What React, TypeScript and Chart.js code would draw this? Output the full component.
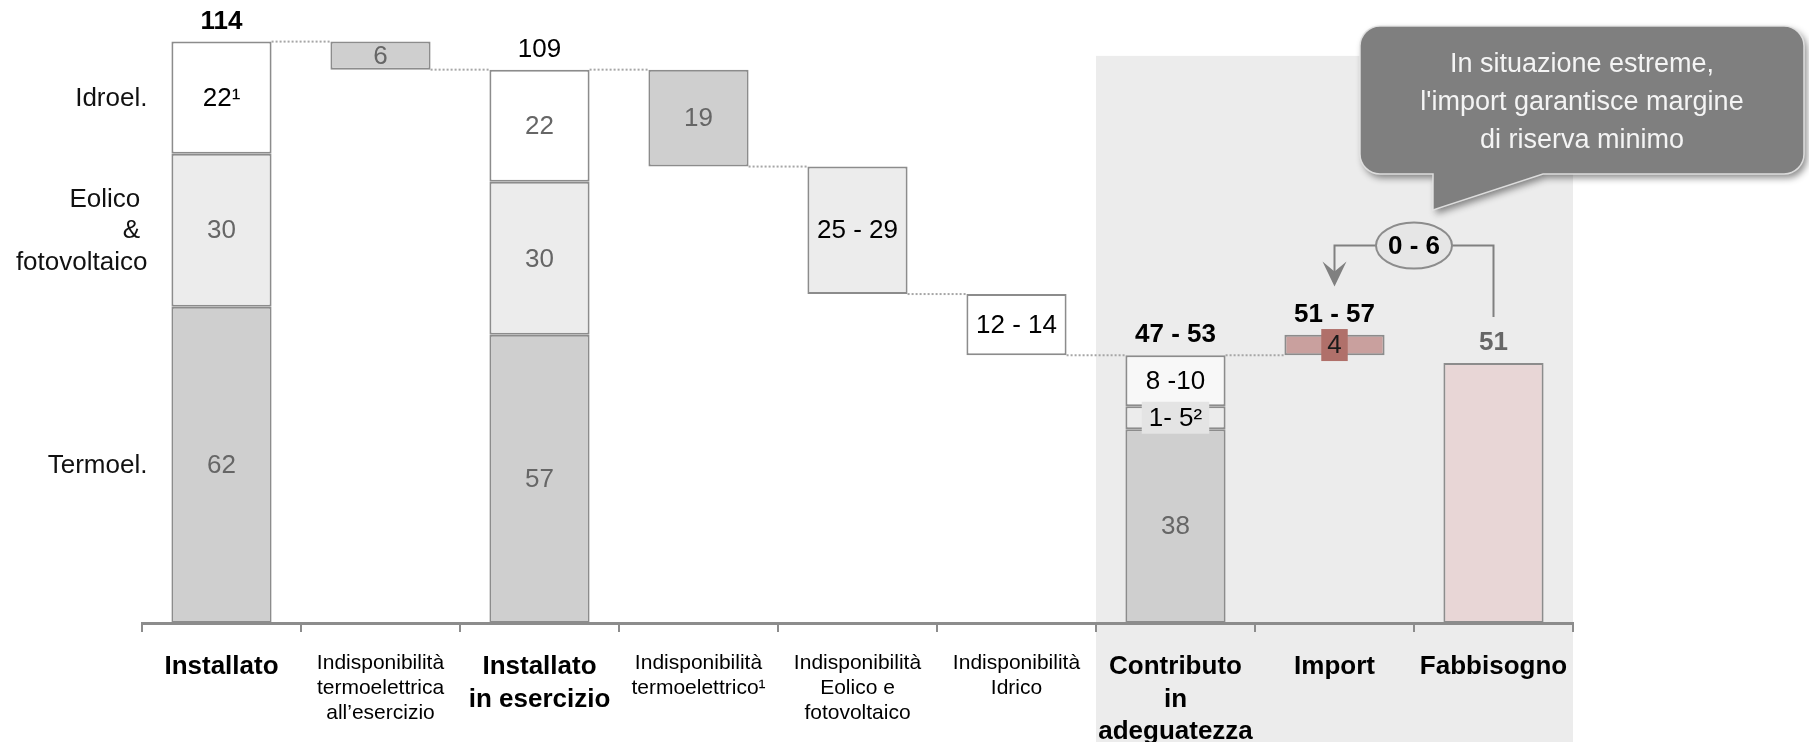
import React, { useEffect, useRef } from "react";
import { Chart, registerables } from "chart.js";

Chart.register(...registerables);

const FONT = "'Liberation Sans', Arial, Helvetica, sans-serif";

// ---------- data ----------
const categories: string[][] = [
  ["Installato"],
  ["Indisponibilità", "termoelettrica", "all’esercizio"],
  ["Installato", "in esercizio"],
  ["Indisponibilità", "termoelettrico¹"],
  ["Indisponibilità", "Eolico e", "fotovoltaico"],
  ["Indisponibilità", "Idrico"],
  ["Contributo", "in", "adeguatezza"],
  ["Import"],
  ["Fabbisogno"],
];
const boldCategory = [true, false, true, false, false, false, true, true, true];

type Seg = [number, number] | null;
const termoSeg: Seg[] = [[0, 62], null, [0, 56.5], null, null, null, [0, 38], null, null];
const eolicoSeg: Seg[] = [[62, 92], null, [56.5, 86.5], null, null, null, null, null, null];
const idroSeg: Seg[] = [[92, 114], null, [86.5, 108.5], null, null, null, null, null, null];
const lossSeg: Seg[] = [null, [108.5, 114], null, [89.5, 108.5], [64.5, 89.5], [52.5, 64.5], null, null, null];
const flexSeg: Seg[] = [null, null, null, null, null, null, [38, 42.5], null, null];
const reserveSeg: Seg[] = [null, null, null, null, null, null, [42.5, 52.5], null, null];
const importSeg: Seg[] = [null, null, null, null, null, null, null, [52.5, 56.5], null];
const demandSeg: Seg[] = [null, null, null, null, null, null, null, null, [0, 51]];

const termoLabels = ["62", "", "57", "", "", "", "38", "", ""];
const eolicoLabels = ["30", "", "30", "", "", "", "", "", ""];
const idroLabels = ["22¹", "", "22", "", "", "", "", "", ""];
const lossLabels = ["", "6", "", "19", "25 - 29", "12 - 14", "", "", ""];
const flexLabels = ["", "", "", "", "", "", "1- 5²", "", ""];
const reserveLabels = ["", "", "", "", "", "", "8 -10", "", ""];
const importLabels = ["", "", "", "", "", "", "", "4", ""];
const totalLabels = ["114", "", "109", "", "", "", "47 - 53", "51 - 57", "51"];
const totalBold = [true, false, false, false, false, false, true, true, true];

const rowLabels = [["Idroel."], ["Eolico ", "& ", "fotovoltaico"], ["Termoel."]];
const reserveRangeLabel = "0 - 6";
const calloutLines = ["In situazione estreme,", "l'import garantisce margine", "di riserva minimo"];
// waterfall connectors: [from category, to category, level]
const connectors: [number, number, number][] = [
  [0, 1, 114],
  [1, 2, 108.5],
  [2, 3, 108.5],
  [3, 4, 89.5],
  [4, 5, 64.5],
  [5, 6, 52.5],
  [6, 7, 52.5],
];

// ---------- styling ----------
const GREY_TXT = "#666666";
const BORDER = "#8c8c8c";

function makeDs(label: string, data: Seg[], bg: any, labels: string[], colors: any, extra: any = {}) {
  return {
    label,
    data,
    backgroundColor: bg,
    borderColor: BORDER,
    borderWidth: 2,
    borderSkipped: false,
    grouped: false,
    barPercentage: 0.63,
    categoryPercentage: 1,
    valueLabels: labels,
    valueColors: colors,
    ...extra,
  };
}

function barAt(chart: any, i: number) {
  let res: any = null;
  chart.data.datasets.forEach((d: any, di: number) => {
    if (d.data[i] == null) return;
    const el = chart.getDatasetMeta(di).data[i];
    if (!el) return;
    const p = el.getProps(["x", "y", "base", "width"], true);
    const top = Math.min(p.y, p.base);
    if (!res) res = { x: p.x, width: p.width, top };
    else res.top = Math.min(res.top, top);
  });
  return res;
}

const annotationPlugin = {
  id: "waterfallDecor",
  beforeDraw(chart: any) {
    const { ctx, scales, chartArea } = chart;
    const x = scales.x;
    const y = scales.y;
    const left = (x.getPixelForValue(5) + x.getPixelForValue(6)) / 2;
    const top = y.getPixelForValue(111.2);
    ctx.save();
    ctx.fillStyle = "#ececec";
    ctx.fillRect(left, top, chartArea.right - left, chart.height - top);
    ctx.restore();
  },
  beforeDatasetsDraw(chart: any) {
    const { ctx, scales } = chart;
    const y = scales.y;
    ctx.save();
    ctx.strokeStyle = "#a6a6a6";
    ctx.lineWidth = 2;
    ctx.setLineDash([2, 2]);
    connectors.forEach(([a, b, v]) => {
      const ea = barAt(chart, a);
      const eb = barAt(chart, b);
      if (!ea || !eb) return;
      const py = y.getPixelForValue(v);
      ctx.beginPath();
      ctx.moveTo(ea.x + ea.width / 2, py);
      ctx.lineTo(eb.x - eb.width / 2, py);
      ctx.stroke();
    });
    ctx.restore();
  },
  afterDatasetsDraw(chart: any) {
    const { ctx } = chart;
    ctx.save();
    ctx.textAlign = "center";
    ctx.textBaseline = "middle";
    chart.data.datasets.forEach((d: any, di: number) => {
      const meta = chart.getDatasetMeta(di);
      const labels: string[] = d.valueLabels;
      if (!labels) return;
      meta.data.forEach((el: any, i: number) => {
        const txt = labels[i];
        if (!txt || d.data[i] == null) return;
        const p = el.getProps(["x", "y", "base"], true);
        const cy = (p.y + p.base) / 2;
        ctx.font = `26px ${FONT}`;
        if (d.labelBox) {
          const w = ctx.measureText(txt).width + d.labelBoxPad * 2;
          ctx.fillStyle = d.labelBox;
          ctx.fillRect(p.x - w / 2, cy - 16, w, 32);
        }
        const c = Array.isArray(d.valueColors) ? d.valueColors[i] : d.valueColors;
        ctx.fillStyle = c || "#000";
        ctx.fillText(txt, p.x, cy + 1);
      });
    });
    // totals above bars
    totalLabels.forEach((txt, i) => {
      if (!txt) return;
      const b = barAt(chart, i);
      if (!b) return;
      ctx.font = `${totalBold[i] ? "bold " : ""}26px ${FONT}`;
      ctx.fillStyle = i === 8 ? GREY_TXT : "#000";
      ctx.fillText(txt, b.x, b.top - 20);
    });
    // row labels next to first bar (segment midpoints)
    const segDs = [2, 1, 0];
    ctx.textAlign = "right";
    ctx.font = `26px ${FONT}`;
    ctx.fillStyle = "#111";
    rowLabels.forEach((lines, k) => {
      const el = chart.getDatasetMeta(segDs[k]).data[0];
      const p = el.getProps(["x", "y", "base", "width"], true);
      const cy = (p.y + p.base) / 2;
      const lh = 31.5;
      const rx = p.x - p.width / 2 - 24;
      lines.forEach((ln, j) => {
        ctx.fillText(ln, rx, cy + (j - (lines.length - 1) / 2) * lh + 1);
      });
    });
    ctx.restore();
  },
  afterDraw(chart: any) {
    const { ctx, scales } = chart;
    const y = scales.y;
    const imp = barAt(chart, 7);
    const dem = barAt(chart, 8);
    if (!imp || !dem) return;
    const cx = (imp.x + dem.x) / 2;
    const cy = y.getPixelForValue(74);
    const tipY = y.getPixelForValue(66);
    const endY = y.getPixelForValue(60);
    ctx.save();
    // connector lines
    ctx.strokeStyle = "#808080";
    ctx.lineWidth = 2;
    ctx.beginPath();
    ctx.moveTo(cx - 38, cy);
    ctx.lineTo(imp.x, cy);
    ctx.lineTo(imp.x, tipY - 10);
    ctx.moveTo(cx + 38, cy);
    ctx.lineTo(dem.x, cy);
    ctx.lineTo(dem.x, endY);
    ctx.stroke();
    // arrowhead
    ctx.fillStyle = "#808080";
    ctx.beginPath();
    ctx.moveTo(imp.x, tipY);
    ctx.lineTo(imp.x - 12, tipY - 25);
    ctx.lineTo(imp.x, tipY - 15);
    ctx.lineTo(imp.x + 12, tipY - 25);
    ctx.closePath();
    ctx.fill();
    // ellipse with range
    ctx.beginPath();
    ctx.ellipse(cx, cy, 38, 23, 0, 0, Math.PI * 2);
    ctx.fillStyle = "#e6e6e6";
    ctx.fill();
    ctx.strokeStyle = "#8c8c8c";
    ctx.stroke();
    ctx.fillStyle = "#000";
    ctx.font = `bold 26px ${FONT}`;
    ctx.textAlign = "center";
    ctx.textBaseline = "middle";
    ctx.fillText(reserveRangeLabel, cx, cy + 1);

    // callout
    const L = 1360, T = 26, R = 1804, B = 174, r = 20;
    const pL = 1433, pR = 1543, tipX = 1433, tipYc = 210;
    ctx.beginPath();
    ctx.moveTo(L + r, T);
    ctx.lineTo(R - r, T);
    ctx.arcTo(R, T, R, T + r, r);
    ctx.lineTo(R, B - r);
    ctx.arcTo(R, B, R - r, B, r);
    ctx.lineTo(pR, B);
    ctx.lineTo(tipX, tipYc);
    ctx.lineTo(pL, B);
    ctx.lineTo(L + r, B);
    ctx.arcTo(L, B, L, B - r, r);
    ctx.lineTo(L, T + r);
    ctx.arcTo(L, T, L + r, T, r);
    ctx.closePath();
    ctx.shadowColor = "rgba(0,0,0,0.45)";
    ctx.shadowBlur = 7;
    ctx.shadowOffsetX = 3;
    ctx.shadowOffsetY = 4;
    ctx.fillStyle = "#7f7f7f";
    ctx.fill();
    ctx.shadowColor = "transparent";
    ctx.strokeStyle = "rgba(230,230,230,0.9)";
    ctx.lineWidth = 1.5;
    ctx.stroke();
    ctx.fillStyle = "#f4f4f4";
    ctx.font = `27px ${FONT}`;
    calloutLines.forEach((ln, j) => {
      ctx.fillText(ln, (L + R) / 2, 65 + j * 38);
    });
    ctx.restore();
  },
};

export default function App() {
  const ref = useRef<HTMLCanvasElement>(null);
  useEffect(() => {
    if (!ref.current) return;
    const chart = new Chart(ref.current, {
      type: "bar",
      data: {
        labels: categories as any,
        datasets: [
          makeDs("Termoelettrico", termoSeg, "#cfcfcf", termoLabels, GREY_TXT),
          makeDs("Eolico & fotovoltaico", eolicoSeg, "#ececec", eolicoLabels, GREY_TXT),
          makeDs("Idroelettrico", idroSeg, "#ffffff", idroLabels, ["#000", "", GREY_TXT]),
          makeDs(
            "Indisponibilità",
            lossSeg,
            ["#fff", "#cfcfcf", "#fff", "#cfcfcf", "#ececec", "#ffffff", "#fff", "#fff", "#fff"],
            lossLabels,
            ["", GREY_TXT, "", GREY_TXT, "#000", "#000", "", "", ""]
          ),
          makeDs("Flessibilità", flexSeg, "#ececec", flexLabels, "#000", { labelBox: "#e4e4e4", labelBoxPad: 7 }),
          makeDs("Riserva", reserveSeg, "#f8f8f8", reserveLabels, "#000"),
          makeDs("Import", importSeg, "#c9a09e", importLabels, "#1a1a1a", { labelBox: "#b0706a", labelBoxPad: 6 }),
          makeDs("Fabbisogno", demandSeg, "#e8d6d6", [], "#000"),
        ] as any,
      },
      options: {
        animation: false,
        responsive: false,
        devicePixelRatio: 1,
        layout: { padding: { left: 142, right: 236, top: 11, bottom: 0 } },
        plugins: { legend: { display: false }, tooltip: { enabled: false } },
        scales: {
          y: { display: false, min: 0, max: 120 },
          x: {
            offset: true,
            afterFit: (s: any) => {
              s.height = 119;
            },
            grid: {
              display: true,
              offset: true,
              drawOnChartArea: false,
              drawTicks: true,
              tickLength: 9,
              color: BORDER,
              lineWidth: 2,
            },
            border: { display: true, color: BORDER, width: 3 },
            ticks: {
              autoSkip: false,
              maxRotation: 0,
              minRotation: 0,
              padding: 19,
              color: "#000",
              font: (c: any) =>
                boldCategory[c.index]
                  ? { family: FONT, size: 26, weight: "bold", lineHeight: 1.24 }
                  : { family: FONT, size: 21, weight: "normal", lineHeight: 1.18 },
            },
          },
        },
      } as any,
      plugins: [annotationPlugin],
    });
    return () => chart.destroy();
  }, []);
  return (
    <div style={{ position: "fixed", left: 0, top: 0, width: 1809, height: 742, background: "#fff" }}>
      <canvas ref={ref} width={1809} height={742} style={{ display: "block" }} />
    </div>
  );
}
